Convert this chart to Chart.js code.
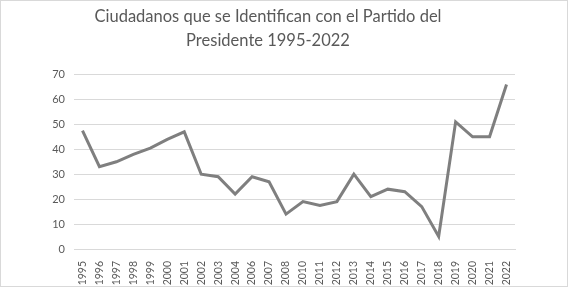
<!DOCTYPE html>
<html>
<head>
<meta charset="utf-8">
<script src="https://cdn.jsdelivr.net/npm/chart.js@4"></script>
<style>
  body { margin: 0; background: #fff; }
  #wrap { width: 566px; height: 285px; border: 1px solid #d9d9d9; position: relative; }
</style>
</head>
<body>
<div id="wrap"><canvas id="chart" width="566" height="285"></canvas></div>
<script>
// data
const years = ["1995", "1996", "1997", "1998", "1999", "2000", "2001", "2002", "2003", "2004",
  "2006", "2007", "2008", "2010", "2011", "2012", "2013", "2014", "2015", "2016",
  "2017", "2018", "2019", "2020", "2021", "2022"];
const identifican = [47.5, 33, 35, 38, 40.5, 44, 47, 30, 29, 22,
  29, 27, 14, 19, 17.5, 19, 30, 21, 24, 23,
  17, 5, 51, 45, 45, 66];
const yTicks = { min: 0, max: 70, step: 10 };
const titleLines = ["Ciudadanos que se Identifican con el Partido del", "Presidente 1995-2022"];

const grey = "#595959";

new Chart(document.getElementById("chart"), {
  type: "line",
  data: {
    labels: years,
    datasets: [{
      data: identifican,
      borderColor: "#7f7f7f",
      borderWidth: 3,
      pointRadius: 0,
      tension: 0,
      fill: false
    }]
  },
  options: {
    responsive: false,
    animation: false,
    layout: { padding: { left: 20, right: 52, top: 2, bottom: 0 } },
    plugins: {
      legend: { display: false },
      tooltip: { enabled: false },
      title: {
        display: true,
        text: titleLines,
        color: grey,
        font: { family: "Lato", size: 16.5, weight: "normal", lineHeight: 1.5 },
        padding: { top: 1, bottom: 21 }
      }
    },
    scales: {
      x: {
        offset: true,
        grid: { display: false },
        border: { display: true, color: "#d9d9d9" },
        afterFit: (scale) => { scale.height = 37; },
        ticks: {
          autoSkip: false,
          minRotation: 90,
          maxRotation: 90,
          color: grey,
          padding: 4,
          font: { family: "Lato", size: 10.5 }
        }
      },
      y: {
        min: yTicks.min,
        max: yTicks.max,
        grid: { color: "#d9d9d9", drawTicks: false },
        border: { display: false },
        afterFit: (scale) => { scale.width = 53; },
        ticks: {
          stepSize: yTicks.step,
          color: grey,
          padding: 9,
          font: { family: "Lato", size: 11 }
        }
      }
    }
  }
});
</script>
</body>
</html>
